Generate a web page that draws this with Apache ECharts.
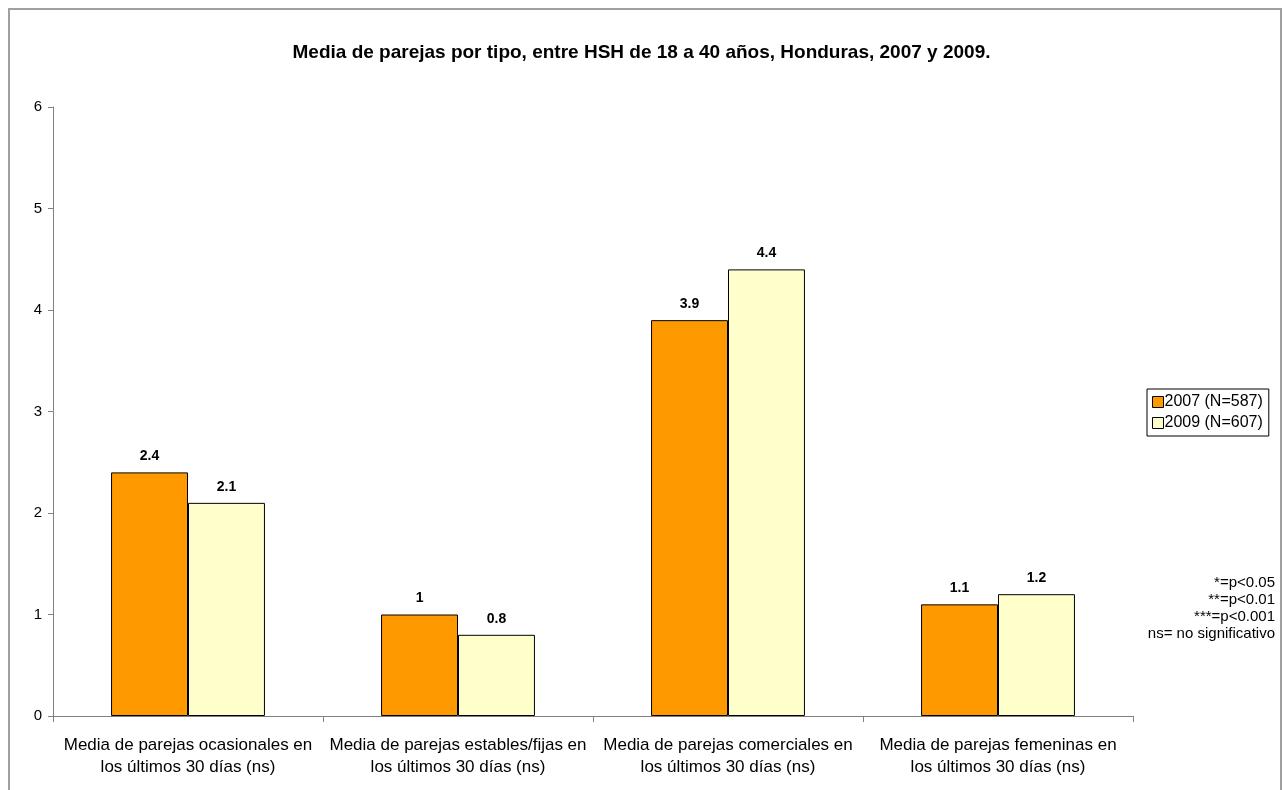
<!DOCTYPE html>
<html>
<head>
<meta charset="utf-8">
<script src="https://cdn.jsdelivr.net/npm/echarts@6/dist/echarts.min.js"></script>
<style>
  html, body { margin: 0; padding: 0; background: #fff; }
  #chart { width: 1283px; height: 790px; }
</style>
</head>
<body>
<div id="chart"></div>
<script>
// categorías del eje x
var categories = [
  "Media de parejas ocasionales en\nlos últimos 30 días (ns)",
  "Media de parejas estables/fijas en\nlos últimos 30 días (ns)",
  "Media de parejas comerciales en\nlos últimos 30 días (ns)",
  "Media de parejas femeninas en\nlos últimos 30 días (ns)"
];
var values2007 = [2.4, 1, 3.9, 1.1];
var values2009 = [2.1, 0.8, 4.4, 1.2];
var seriesNames = ["2007 (N=587)", "2009 (N=607)"];
var notes = ["*=p<0.05", "**=p<0.01", "***=p<0.001", "ns= no significativo"];

var font = "Arial, 'Liberation Sans', sans-serif";
var myChart = echarts.init(document.getElementById("chart"));

var barLabel = {
  show: true,
  position: "top",
  distance: 9,
  fontFamily: font,
  fontSize: 14,
  fontWeight: "bold",
  color: "#000"
};

// notas de significancia, alineadas a la derecha
var noteItems = notes.map(function(t, i) {
  return {
    type: "text",
    x: 1275,
    y: 583 + i * 17,
    style: {
      text: t,
      fontFamily: font,
      fontSize: 15,
      fill: "#000",
      align: "right",
      verticalAlign: "middle"
    }
  };
});

var option = {
  animation: false,
  backgroundColor: "#fff",
  title: {
    text: "Media de parejas por tipo, entre HSH de 18 a 40 años, Honduras, 2007 y 2009.",
    left: "center",
    top: 38,
    textStyle: { fontFamily: font, fontSize: 19, fontWeight: "bold", color: "#000" }
  },
  legend: {
    orient: "vertical",
    left: 1147,
    top: 389,
    padding: [5, 6, 5, 5],
    itemGap: 5,
    itemWidth: 11,
    itemHeight: 11,
    icon: "rect",
    borderColor: "#000",
    borderWidth: 1,
    itemStyle: { borderColor: "#000", borderWidth: 1 },
    textStyle: { fontFamily: font, fontSize: 16, color: "#000", padding: [0, 0, 0, -4] },
    data: seriesNames
  },
  grid: { left: 53, right: 150, top: 107, bottom: 74 },
  xAxis: {
    type: "category",
    data: categories,
    axisLine: { lineStyle: { color: "#808080", width: 1 } },
    axisTick: { show: true, length: 6, lineStyle: { color: "#808080" } },
    axisLabel: {
      interval: 0,
      margin: 18,
      fontFamily: font,
      fontSize: 17,
      lineHeight: 22,
      color: "#000"
    }
  },
  yAxis: {
    type: "value",
    min: 0,
    max: 6,
    interval: 1,
    axisLine: { show: true, lineStyle: { color: "#808080", width: 1 } },
    axisTick: { show: true, length: 5, lineStyle: { color: "#808080" } },
    splitLine: { show: false },
    axisLabel: { fontFamily: font, fontSize: 15, color: "#000", margin: 11 }
  },
  series: [
    {
      name: seriesNames[0],
      type: "bar",
      data: values2007,
      barGap: "0%",
      barCategoryGap: "43%",
      itemStyle: { color: "#FF9900", borderColor: "#000", borderWidth: 1 },
      label: barLabel
    },
    {
      name: seriesNames[1],
      type: "bar",
      data: values2009,
      itemStyle: { color: "#FFFFCC", borderColor: "#000", borderWidth: 1 },
      label: barLabel
    }
  ],
  graphic: [
    {
      type: "rect",
      shape: { x: 9, y: 9, width: 1272, height: 800 },
      style: { fill: "none", stroke: "#a0a0a0", lineWidth: 2 },
      silent: true
    }
  ].concat(noteItems)
};

if (option && typeof option === "object") {
  myChart.setOption(option, true);
}
</script>
</body>
</html>
